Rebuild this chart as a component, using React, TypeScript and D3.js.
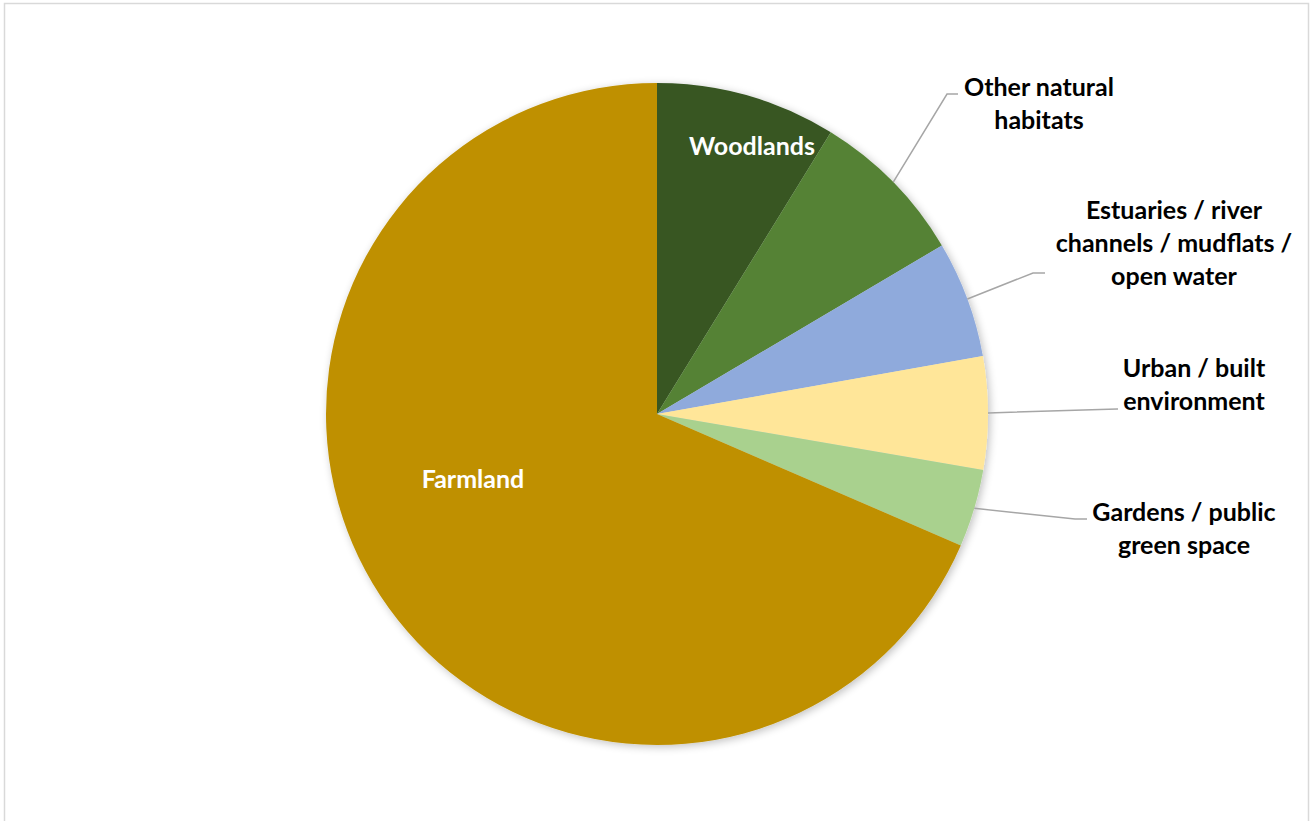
import React from "react";
import * as d3 from "d3";

const categories = [
  "Woodlands",
  "Other natural habitats",
  "Estuaries / river channels / mudflats / open water",
  "Urban / built environment",
  "Gardens / public green space",
  "Farmland",
];
const values = [8.8, 7.7, 5.7, 5.5, 3.8, 68.5];
const colors = ["#375623", "#548235", "#8faadc", "#ffe699", "#a9d18e", "#bf9000"];

// label layout: inside labels (white) or outside labels with leader lines
type Lbl = {
  inside: boolean;
  lines: string[];
  x: number;
  y: number; // first baseline
  elbow?: [number, number];
  end?: [number, number];
};
const labelLayout: Lbl[] = [
  { inside: true, lines: ["Woodlands"], x: 752, y: 155 },
  { inside: false, lines: ["Other natural", "habitats"], x: 1039, y: 96, elbow: [947, 94], end: [958, 94] },
  { inside: false, lines: ["Estuaries / river", "channels / mudflats /", "open water"], x: 1174, y: 219, elbow: [1033, 273], end: [1045, 273] },
  { inside: false, lines: ["Urban / built", "environment"], x: 1194, y: 377, elbow: [1117, 409], end: [1118, 409] },
  { inside: false, lines: ["Gardens / public", "green space"], x: 1184, y: 521, elbow: [1075, 519], end: [1087, 519] },
  { inside: true, lines: ["Farmland"], x: 473, y: 488 },
];

const W = 1314;
const H = 821;
const cx = 657;
const cy = 414;
const R = 331;
const lineH = 33;

export default function App() {
  const pie = d3.pie<number>().sort(null).value((d) => d)(values);
  const arc = d3.arc<d3.PieArcDatum<number>>().innerRadius(0).outerRadius(R);
  const font = "Lato, Carlito, Calibri, sans-serif";
  return (
    <svg
      width={W}
      height={H}
      style={{ position: "absolute", left: 0, top: 0, background: "#fff" }}
    >
      <defs>
        <filter id="sh" x="-10%" y="-10%" width="120%" height="120%">
          <feGaussianBlur in="SourceAlpha" stdDeviation="4" />
          <feOffset dx="2" dy="2" />
          <feComponentTransfer>
            <feFuncA type="linear" slope="0.25" />
          </feComponentTransfer>
          <feMerge>
            <feMergeNode />
            <feMergeNode in="SourceGraphic" />
          </feMerge>
        </filter>
      </defs>
      <rect x={4.5} y={3.5} width={1304} height={830} fill="#fff" stroke="#d9d9d9" strokeWidth={1.5} />
      <g transform={`translate(${cx},${cy})`} filter="url(#sh)">
        {pie.map((p, i) => (
          <path key={categories[i]} d={arc(p) || ""} fill={colors[i]} />
        ))}
      </g>
      {pie.map((p, i) => {
        const L = labelLayout[i];
        if (L.inside || !L.elbow || !L.end) return null;
        const mid = (p.startAngle + p.endAngle) / 2;
        const sx = cx + R * Math.sin(mid);
        const sy = cy - R * Math.cos(mid);
        return (
          <polyline
            key={"l" + i}
            points={`${sx},${sy} ${L.elbow[0]},${L.elbow[1]} ${L.end[0]},${L.end[1]}`}
            fill="none"
            stroke="#a6a6a6"
            strokeWidth={1.5}
          />
        );
      })}
      {labelLayout.map((L, i) => (
        <text
          key={"t" + i}
          textAnchor="middle"
          fontFamily={font}
          fontWeight="bold"
          fontSize={25}
          fill={L.inside ? "#ffffff" : "#000000"}
        >
          {L.lines.map((ln, j) => (
            <tspan key={j} x={L.x} y={L.y + j * lineH}>
              {ln}
            </tspan>
          ))}
        </text>
      ))}
    </svg>
  );
}
